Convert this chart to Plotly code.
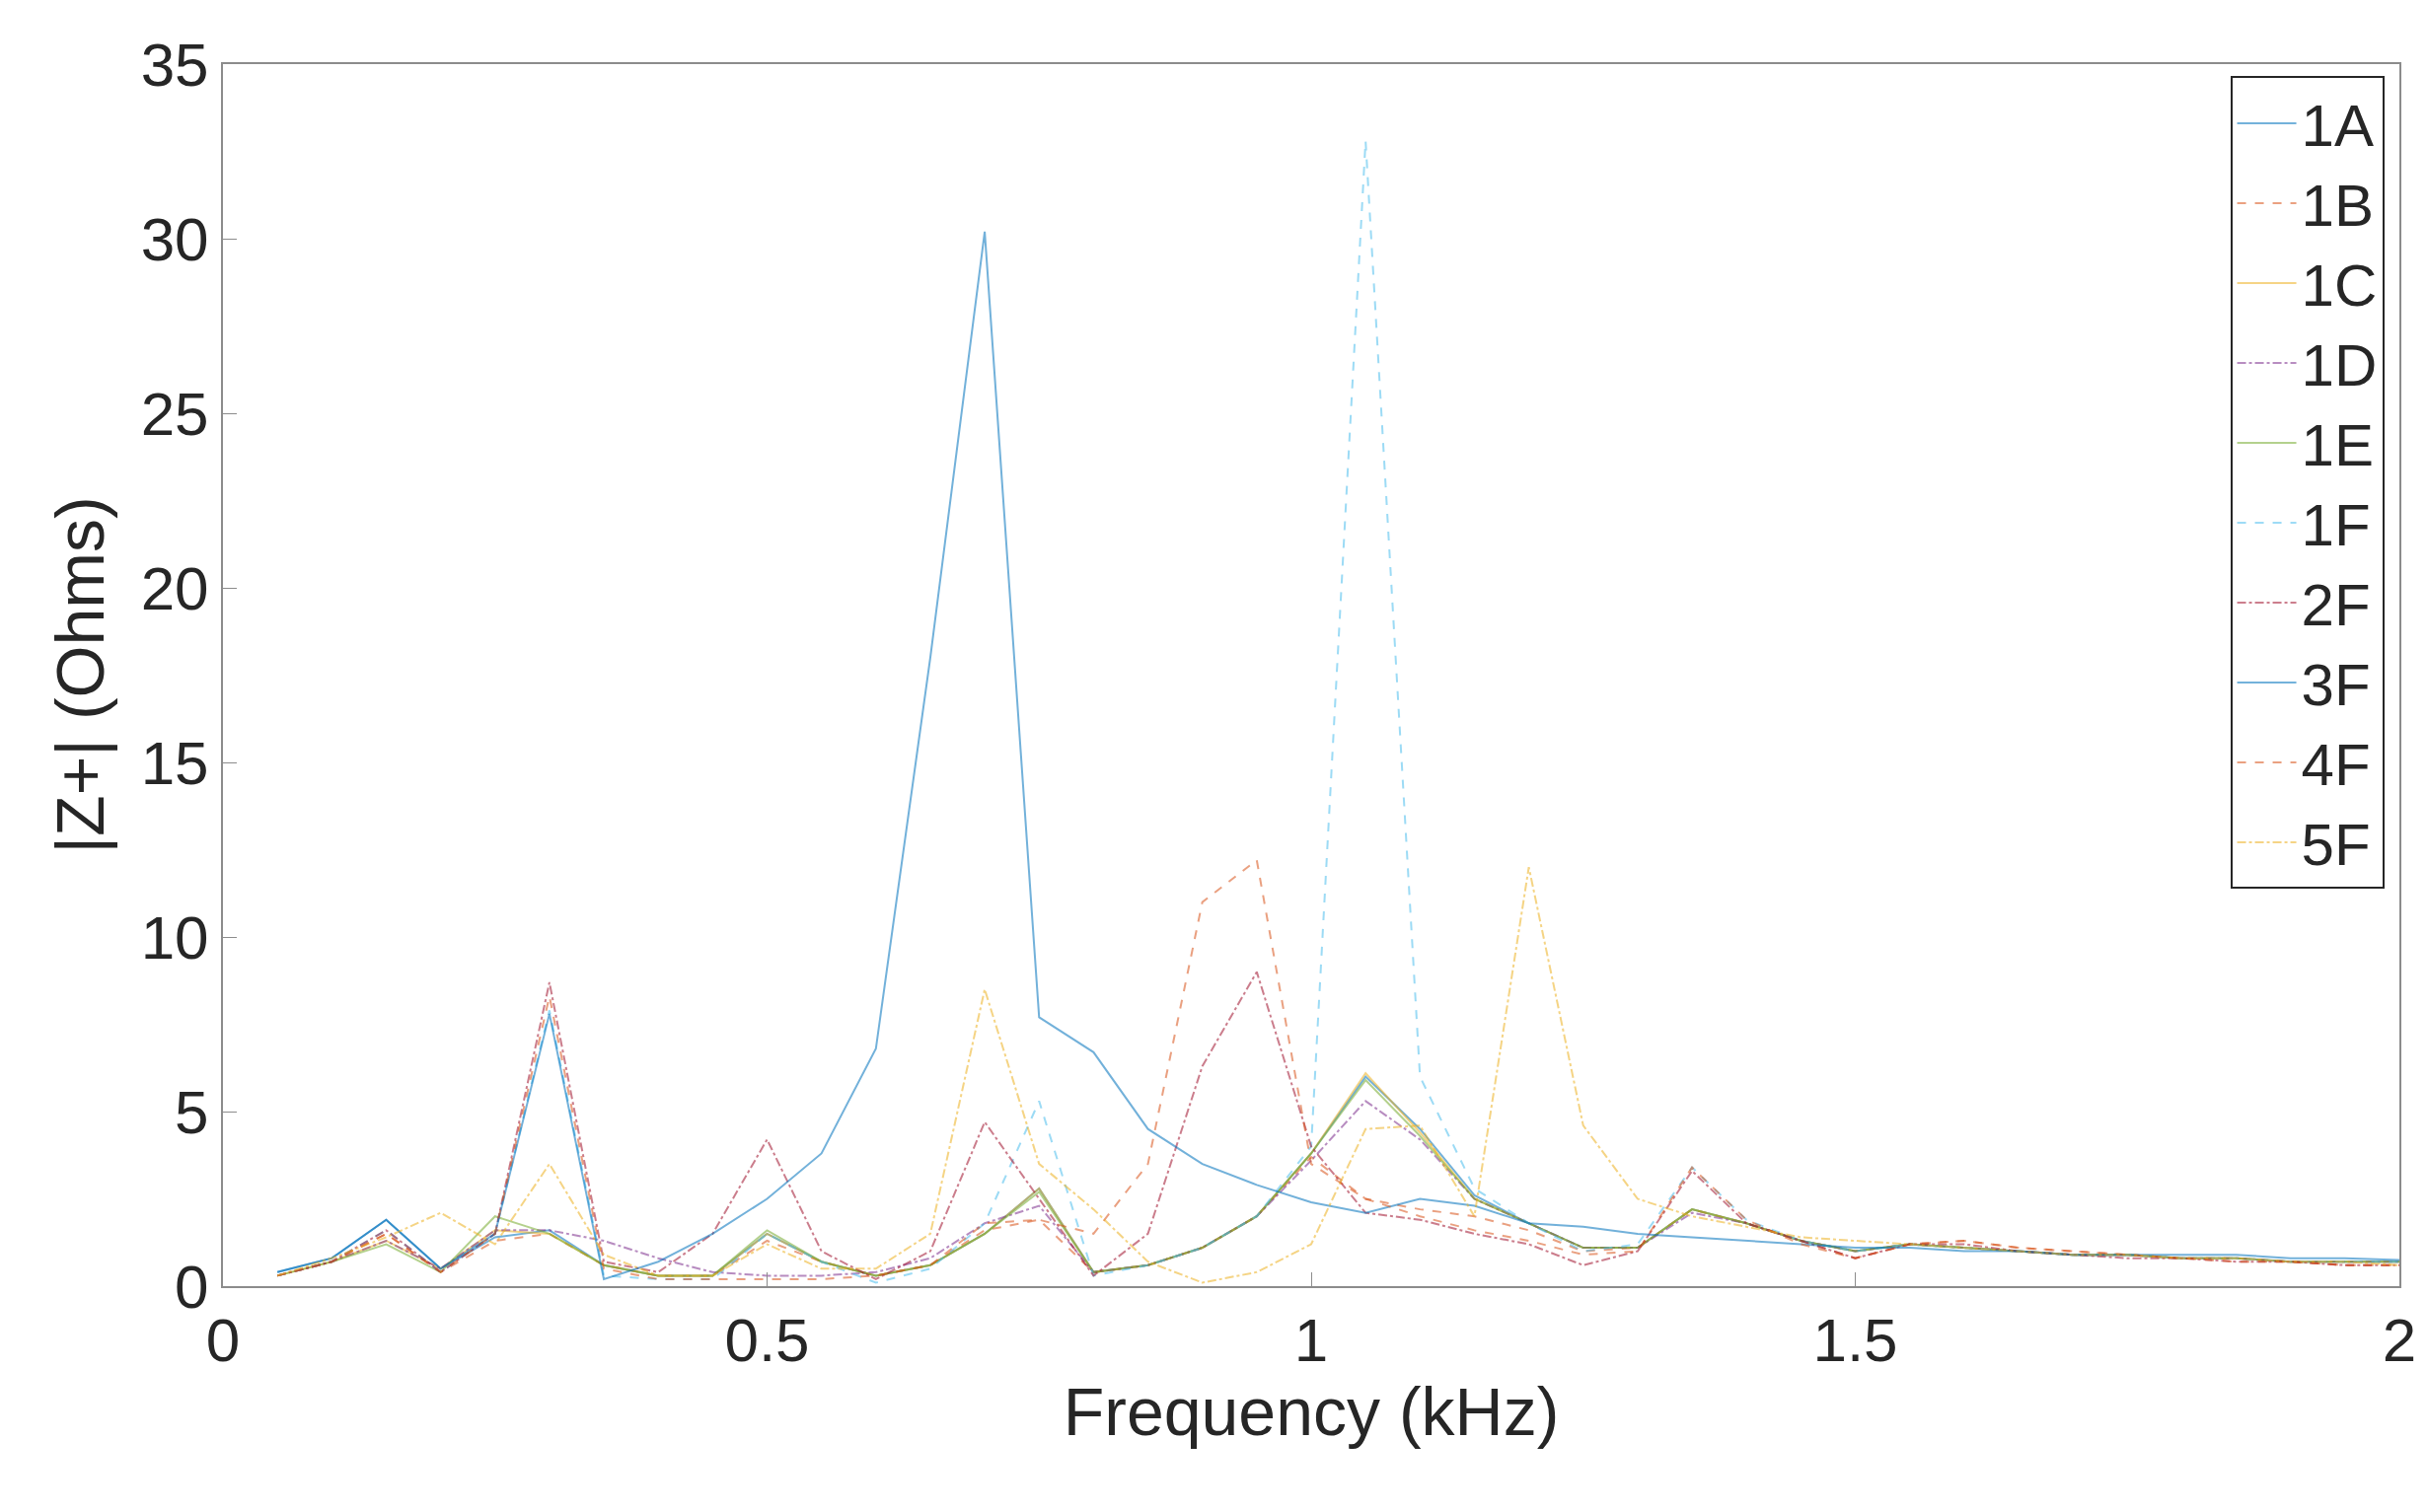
import plotly.graph_objects as go

freq = [round(0.05 * i, 2) for i in range(1, 41)]
names = ["1A", "1B", "1C", "1D", "1E", "1F", "2F", "3F", "4F", "5F"]

s1A = [0.4,0.8,1.9,0.5,1.4,1.6,0.6,0.3,0.3,1.5,0.7,0.3,0.6,1.5,2.8,0.4,0.6,1.1,2.0,3.8,6.0,4.5,2.6,1.8,1.1,1.1,2.2,1.8,1.3,1.0,1.2,1.1,1.0,0.9,0.9,0.8,0.8,0.7,0.7,0.7]
s1B = [0.3,0.7,1.5,0.4,1.3,1.5,0.6,0.3,0.3,1.3,0.7,0.3,0.6,1.6,1.9,0.4,0.6,1.1,2.0,3.7,2.5,2.2,2.0,1.6,1.0,1.1,2.2,1.8,1.3,0.8,1.2,1.3,1.1,1.0,0.9,0.8,0.8,0.7,0.6,0.6]
s1C = [0.3,0.7,1.3,0.5,1.6,1.5,0.6,0.3,0.3,1.5,0.7,0.3,0.6,1.5,2.8,0.4,0.6,1.1,2.0,3.8,6.1,4.4,2.5,1.8,1.1,1.1,2.2,1.8,1.3,1.0,1.2,1.1,1.0,0.9,0.9,0.8,0.8,0.7,0.7,0.7]
s1D = [0.3,0.7,1.3,0.5,1.6,1.6,1.3,0.8,0.4,0.3,0.3,0.4,0.8,1.8,2.3,0.4,0.6,1.1,2.0,3.6,5.3,4.2,2.5,1.8,1.1,1.1,2.1,1.8,1.3,1.0,1.2,1.1,1.0,0.9,0.9,0.8,0.8,0.7,0.7,0.7]
s1E = [0.3,0.7,1.2,0.4,2.0,1.5,0.6,0.3,0.3,1.6,0.7,0.3,0.6,1.5,2.7,0.4,0.6,1.1,2.0,3.8,5.9,4.3,2.5,1.8,1.1,1.1,2.2,1.8,1.3,1.0,1.2,1.1,1.0,0.9,0.9,0.8,0.8,0.7,0.7,0.7]
s1F = [0.3,0.7,1.6,0.4,1.5,7.9,0.3,0.2,0.2,1.5,0.7,0.1,0.5,1.8,5.3,0.3,0.6,1.1,2.0,4.0,32.8,6.0,2.8,1.8,1.0,1.2,3.4,1.9,1.3,1.0,1.2,1.1,1.0,0.9,0.9,0.8,0.8,0.7,0.7,0.7]
s2F = [0.3,0.7,1.6,0.4,1.5,8.7,0.7,0.4,1.5,4.2,1.0,0.2,1.0,4.7,2.5,0.3,1.5,6.3,9.0,4.0,2.1,1.9,1.5,1.2,0.6,1.0,3.3,1.8,1.3,0.8,1.2,1.2,1.0,0.9,0.8,0.8,0.7,0.7,0.6,0.6]
s3F = [0.4,0.8,1.9,0.5,1.5,7.8,0.2,0.7,1.5,2.5,3.8,6.8,18.0,30.2,7.7,6.7,4.5,3.5,2.9,2.4,2.1,2.5,2.3,1.8,1.7,1.5,1.4,1.3,1.2,1.1,1.1,1.0,1.0,0.9,0.9,0.9,0.9,0.8,0.8,0.75]
s4F = [0.3,0.7,1.5,0.4,1.5,8.3,0.5,0.2,0.2,0.2,0.2,0.3,0.6,1.8,1.9,1.5,3.5,11.0,12.2,3.5,2.5,2.0,1.6,1.3,0.9,1.0,3.4,1.9,1.2,0.8,1.2,1.3,1.1,1.0,0.9,0.8,0.7,0.7,0.6,0.6]
s5F = [0.3,0.8,1.4,2.1,1.2,3.5,0.9,0.3,0.3,1.2,0.5,0.5,1.5,8.5,3.5,2.2,0.7,0.1,0.4,1.2,4.5,4.6,2.0,12.0,4.6,2.5,2.0,1.7,1.4,1.3,1.2,1.1,1.0,0.9,0.9,0.8,0.8,0.7,0.7,0.6]
series = [s1A, s1B, s1C, s1D, s1E, s1F, s2F, s3F, s4F, s5F]

colors = ["#0072BD", "#D95319", "#EDB120", "#7E2F8E", "#77AC30", "#4DBEEE", "#A2142F", "#0072BD", "#D95319", "#EDB120"]
dashes = ["solid", "dash", "solid", "dashdot", "solid", "dash", "dashdot", "solid", "dash", "dashdot"]

fig = go.Figure()
for n, s, c, d in zip(names, series, colors, dashes):
    fig.add_trace(go.Scatter(x=freq, y=s, name=n, mode="lines",
                             line=dict(color=c, dash=d, width=2), opacity=0.55))

axis = dict(showgrid=False, zeroline=False, showline=True, linecolor="#8c8c8c", linewidth=2,
            mirror=True, ticks="inside", ticklen=14, tickcolor="#8c8c8c",
            tickfont=dict(size=62, color="#262626"))
fig.update_layout(
    width=2460, height=1533, paper_bgcolor="white", plot_bgcolor="white",
    font=dict(family="Liberation Sans, Arial, sans-serif", color="#262626"),
    margin=dict(l=218, r=36, t=57, b=237),
    xaxis=dict(axis, range=[0, 2], tickvals=[0, 0.5, 1, 1.5, 2], ticktext=["0", "0.5", "1", "1.5", "2"],
               title=dict(text="Frequency (kHz)", font=dict(size=68))),
    yaxis=dict(axis, range=[0, 35], tickvals=[0, 5, 10, 15, 20, 25, 30, 35],
               title=dict(text="|Z+| (Ohms)", font=dict(size=68))),
    legend=dict(x=0.993, xanchor="right", y=0.99, yanchor="top", bgcolor="white",
                bordercolor="#262626", borderwidth=2, font=dict(size=60, color="#262626"),
                itemwidth=60, tracegroupgap=0),
    showlegend=True,
)
fig.write_html("out.html")
